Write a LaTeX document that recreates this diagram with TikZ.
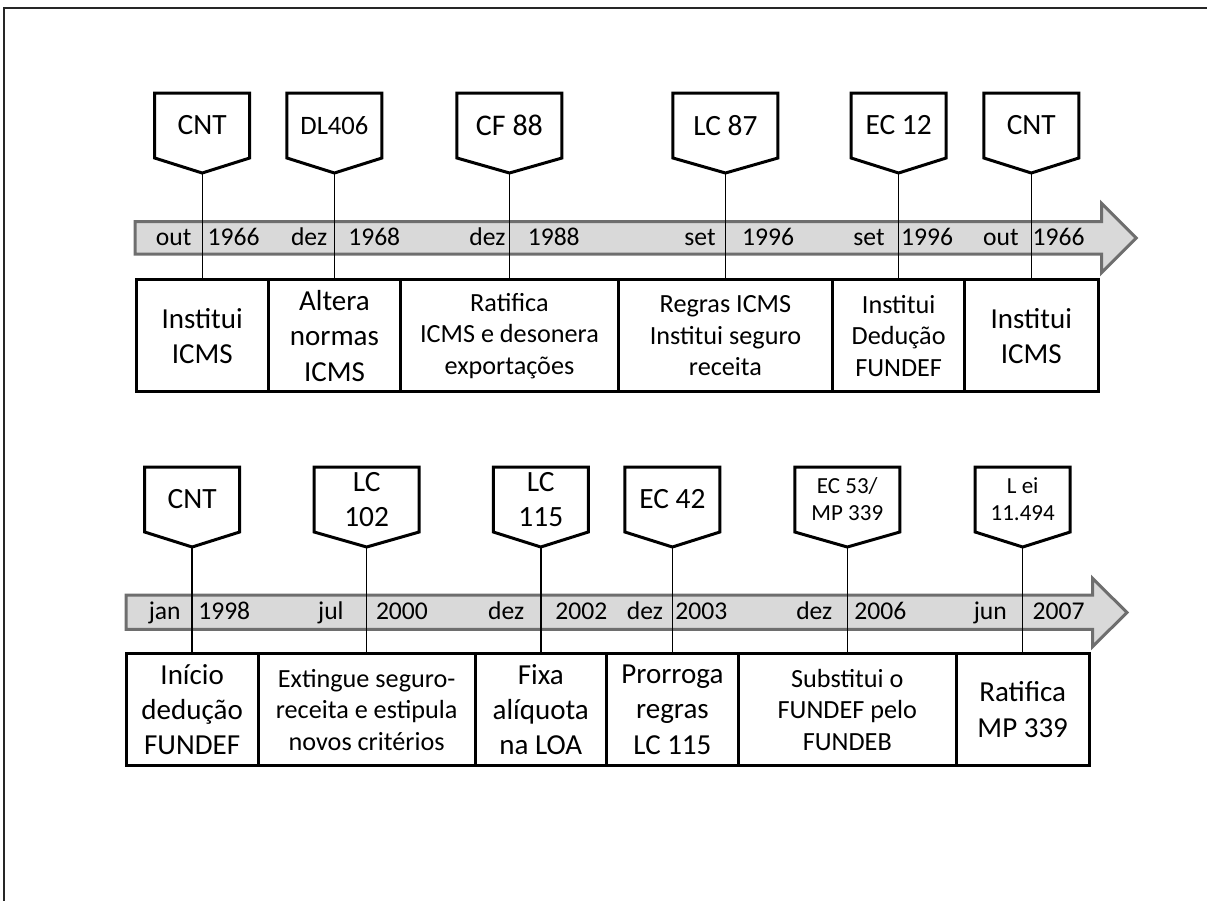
\documentclass[tikz,border=0pt]{standalone}
\usepackage{fontspec}
\setmainfont{Carlito}
\usetikzlibrary{calc}
\definecolor{bandfill}{HTML}{D9D9D9}
\definecolor{bandline}{HTML}{6E6E6E}
\begin{document}
\begin{tikzpicture}[x=0.5pt,y=-0.5pt,
  box/.style={draw, line width=1.5pt, inner sep=0pt, outer sep=0pt, align=center, minimum height=56pt},
  big/.style={font=\fontsize{14.5}{17.7}\selectfont},
  small/.style={font=\fontsize{13.1}{15.8}\selectfont},
  pen/.style={inner sep=0pt, outer sep=0pt, minimum height=32.5pt, align=center},
  pbig/.style={font=\fontsize{14.7}{17.7}\selectfont},
  psmall/.style={font=\fontsize{11.5}{13.5}\selectfont},
  penline/.style={line width=1.5pt, line join=miter},
  link/.style={line width=0.7pt},
  mon/.style={anchor=base east, inner sep=0pt, font=\fontsize{12.8}{15}\selectfont},
  yr/.style={anchor=base west, inner sep=0pt, font=\fontsize{12.8}{15}\selectfont},
  band/.style={fill=bandfill, draw=bandline, line width=1.5pt, line join=miter}]
\useasboundingbox (0,0) rectangle (1207,901);
% frame
\draw[line width=1pt, black!85] (4,901) -- (4,8) -- (1207,8);

% ---------- row 1 ----------
\draw[band] (135,221.7) -- (1101.6,221.7) -- (1101.6,203.3) -- (1136.2,238) -- (1101.6,272.7) -- (1101.6,254) -- (135,254) -- cycle;
\node[mon] (m1) at (191.8,245) {out};  \node[yr] (y1) at (207.2,245) {1966};
\node[mon] (m2) at (327.5,245) {dez};  \node[yr] (y2) at (347.9,245) {1968};
\node[mon] (m3) at (505.9,245) {dez};  \node[yr] (y3) at (527.4,245) {1988};
\node[mon] (m4) at (716,245) {set};    \node[yr] (y4) at (741.7,245) {1996};
\node[mon] (m5) at (885,245) {set};    \node[yr] (y5) at (900.7,245) {1996};
\node[mon] (m6) at (1019,245) {out};   \node[yr] (y6) at (1032.3,245) {1966};

\node[box, big,   minimum width=66pt]    (b1) at (202.2,335.9)  {Institui\\ICMS};
\node[box, big,   minimum width=66.25pt] (b2) at (334.45,335.9) {Altera\\normas\\ICMS};
\node[box, small, minimum width=108.75pt](b3) at (509.45,335.9) {Ratifica\\ICMS e desonera\\exportações};
\node[box, small, minimum width=107.25pt](b4) at (725.45,335.9) {Regras ICMS\\Institui seguro\\receita};
\node[box, small, minimum width=65.95pt] (b5) at (898.65,335.9) {Institui\\Dedução\\FUNDEF};
\node[box, big,   minimum width=66.7pt]  (b6) at (1031.3,335.9) {Institui\\ICMS};

\node[pen, pbig, minimum width=47.5pt]  (p1) at (202.2,125.5)  {CNT};
\node[pen, font=\fontsize{13.3}{16}\selectfont, minimum width=47.5pt] (p2) at (334.45,125.5) {DL406};
\node[pen, font=\fontsize{15}{18}\selectfont, minimum width=52.5pt] (p3) at (509.45,125.5) {CF 88};
\node[pen, pbig, minimum width=52.5pt]  (p4) at (725.45,125.5) {LC 87};
\node[pen, pbig, minimum width=47.5pt]  (p5) at (898.65,125.5) {EC 12};
\node[pen, pbig, minimum width=47.5pt]  (p6) at (1031.3,125.5) {CNT};

% ---------- row 2 ----------
\draw[band] (126,595) -- (1092.5,595) -- (1092.5,578.3) -- (1127,612.5) -- (1092.5,646.7) -- (1092.5,629.3) -- (126,629.3) -- cycle;
\node[mon] (m7)  at (181.1,619) {jan};  \node[yr] (y7)  at (197.9,619) {1998};
\node[mon] (m8)  at (344,619) {jul};    \node[yr] (y8)  at (375.6,619) {2000};
\node[mon] (m9)  at (524.6,619) {dez};  \node[yr] (y9)  at (555,619) {2002};
\node[mon] (m10) at (663.3,619) {dez};  \node[yr] (y10) at (675,619) {2003};
\node[mon] (m11) at (832.7,619) {dez};  \node[yr] (y11) at (854,619) {2006};
\node[mon] (m12) at (1007.3,619) {jun}; \node[yr] (y12) at (1032.3,619) {2007};

\node[box, big,   minimum width=66.15pt] (c1) at (192.15,709.65) {Início\\dedução\\FUNDEF};
\node[box, small, minimum width=108.35pt](c2) at (366.65,709.65) {Extingue seguro-\\receita e estipula\\novos critérios};
\node[box, big,   minimum width=65.8pt]  (c3) at (540.8,709.65)  {Fixa\\alíquota\\na LOA};
\node[box, big,   minimum width=65.8pt]  (c4) at (672.4,709.65)  {Prorroga\\regras\\LC 115};
\node[box, small, minimum width=109.1pt] (c5) at (847.3,709.65)  {Substitui o\\FUNDEF pelo\\FUNDEB};
\node[box, big,   minimum width=66.3pt]  (c6) at (1022.7,709.65) {Ratifica\\MP 339};

\node[pen, pbig,   minimum width=47.5pt] (q1) at (192.15,499.5) {CNT};
\node[pen, pbig,   minimum width=52.5pt] (q2) at (366.65,499.5) {LC\\102};
\node[pen, pbig,   minimum width=47.5pt] (q3) at (540.8,499.5)  {LC\\115};
\node[pen, pbig,   minimum width=47.5pt] (q4) at (672.4,499.5)  {EC 42};
\node[pen, psmall, minimum width=52.5pt] (q5) at (847.3,499.5)  {EC 53/\\MP 339};
\node[pen, psmall, minimum width=47.5pt] (q6) at (1022.7,499.5) {L ei\\11.494};

% pennant outlines
\foreach \n in {p1,p2,p3,p4,p5,p6,q1,q2,q3,q4,q5,q6}
  \draw[penline] (\n.north west) -- (\n.north east) -- (\n.south east)
    -- ([yshift=-7.5pt]\n.south) coordinate (\n tip) -- (\n.south west) -- cycle;

% connectors
\foreach \a/\b in {p1/b1,p2/b2,p3/b3,p4/b4,p5/b5,p6/b6,q1/c1,q2/c2,q3/c3,q4/c4,q5/c5,q6/c6}
  \draw[link] (\a tip) -- (\b.north);
\end{tikzpicture}
\end{document}
